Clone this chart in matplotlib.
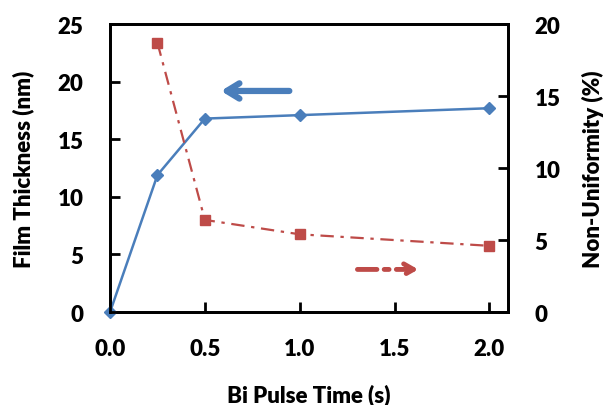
import matplotlib
matplotlib.use("Agg")
import matplotlib.pyplot as plt

pulse_time = [0.0, 0.25, 0.5, 1.0, 2.0]
thickness = [0.0, 11.9, 16.8, 17.1, 17.7]
nu_time = [0.25, 0.5, 1.0, 2.0]
nonuniformity = [18.7, 6.4, 5.4, 4.6]
x_ticks = [0.0, 0.5, 1.0, 1.5, 2.0]
left_ticks = [0, 5, 10, 15, 20, 25]
right_ticks = [0, 5, 10, 15, 20]

plt.rcParams['font.family'] = ['Lato', 'DejaVu Sans']
plt.rcParams['font.weight'] = 'heavy'

blue = '#4a7ebb'
red = '#be4b48'
FS = 16
W = 'heavy'

fig = plt.figure(figsize=(6.08, 4.06), dpi=100)
ax = fig.add_axes([0.181, 0.229, 0.655, 0.709])
ax2 = ax.twinx()

ax.plot(pulse_time, thickness, color=blue, lw=1.8, marker='D', ms=6, clip_on=False, zorder=5)
ax2.plot(nu_time, nonuniformity, color=red, lw=1.6, ls=(0, (6, 3, 1.5, 3)), marker='s', ms=6.5, clip_on=False, zorder=5)

ax.set_xlim(0, 2.1)
ax.set_ylim(0, 25)
ax2.set_ylim(0, 20)
ax.set_xticks(x_ticks)
ax.set_xticklabels([f"{v:.1f}" for v in x_ticks])
ax.set_yticks(left_ticks)
ax2.set_yticks(right_ticks)

for a in (ax, ax2):
    for s in a.spines.values():
        s.set_linewidth(2)
        s.set_color('black')
    a.tick_params(direction='in', length=7, width=2, labelsize=FS)
    for lab in a.get_xticklabels() + a.get_yticklabels():
        lab.set_fontweight(W)
ax.tick_params(axis='x', pad=19)
ax.tick_params(axis='y', pad=19)
ax2.tick_params(axis='y', pad=19)

ax.set_xlabel('Bi Pulse Time (s)', fontsize=FS, fontweight=W, labelpad=17)
ax.set_ylabel('Film Thickness (nm)', fontsize=FS, fontweight=W, labelpad=17)
ax2.set_ylabel('Non-Uniformity (%)', fontsize=FS, fontweight=W, rotation=90, labelpad=15)

# indicator arrows
ax.annotate('', xy=(0.57, 19.2), xytext=(0.96, 19.2),
            arrowprops=dict(arrowstyle='->,head_length=0.9,head_width=0.55', color=blue, lw=4.5))
ax.annotate('', xy=(1.64, 3.7), xytext=(1.29, 3.7),
            arrowprops=dict(arrowstyle='->,head_length=0.7,head_width=0.4', color=red, lw=3.5,
                            ls=(0, (4, 1.5, 1, 1.5))))

fig.savefig('out.png', dpi=100)
